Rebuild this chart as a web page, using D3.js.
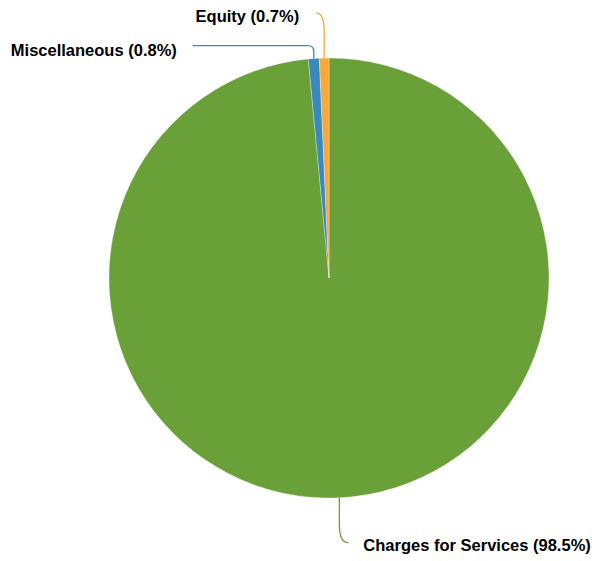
<!DOCTYPE html>
<html lang="en">
	<head>
		<meta charset="utf-8">
		<title>Revenue by source</title>
		<style>
			html, body { margin: 0; background: #fff; }
			svg { display: block; font-family: 'Liberation Sans', Arial, Helvetica, sans-serif; }
		</style>
	</head>
	<body>
		<script src="https://cdn.jsdelivr.net/npm/d3@7/dist/d3.min.js"></script>
		<script>
		// data
		const categories = ['Charges for Services', 'Miscellaneous', 'Equity']
		const shares = [98.5, 0.8, 0.7]
		const colors = ['#6aa038', '#3a89bd', '#f7a83a']

		const w = 592
		const h = 561
		const cx = 329
		const cy = 278
		const r = 220

		// where each leader line ends, relative to the point on the rim
		const leader = {
			'Charges for Services': { dx: 9, dy: 45, gap: 15, tdy: 2 },
			'Miscellaneous': { dx: -121, dy: -13, gap: 16, tdy: 5 },
			'Equity': { dx: -8, dy: -45, gap: 17, tdy: 3 }
		}

		const rows = categories.map((c, i) => ({ name: c, value: shares[i], color: colors[i] }))

		const svg = d3.select('body').append('svg')
			.attr('width', w)
			.attr('height', h)

		const pie = d3.pie()
			.value(d => d.value)
			.sort(null)

		const arc = d3.arc()
			.innerRadius(0)
			.outerRadius(r)

		const arcs = pie(rows)

		const g = svg.append('g')
			.attr('transform', `translate(${cx}, ${cy})`)

		g.selectAll('path.slice')
			.data(arcs)
			.join('path')
			.attr('class', 'slice')
			.attr('d', arc)
			.attr('fill', d => d.data.color)
			.attr('stroke', '#fff')
			.attr('stroke-width', 0.5)
			.attr('stroke-opacity', 0.6)

		const rim = d => {
			const a = (d.startAngle + d.endAngle) / 2
			return [r * Math.sin(a), -r * Math.cos(a)]
		}

		g.selectAll('path.leader')
			.data(arcs)
			.join('path')
			.attr('class', 'leader')
			.attr('fill', 'none')
			.attr('stroke', d => d.data.color)
			.attr('stroke-width', 1.3)
			.attr('d', d => {
				const [ax, ay] = rim(d)
				const L = leader[d.data.name]
				const ex = ax + L.dx
				const ey = ay + L.dy
				const sy = Math.sign(L.dy)
				const sx = Math.sign(L.dx)
				if (Math.abs(L.dx) > Math.abs(L.dy)) {
					// short rise, then a bend into a long horizontal run
					const k = 6
					return `M ${ax},${ay} L ${ax},${ey - sy * k} Q ${ax},${ey} ${ax + sx * k},${ey} L ${ex},${ey}`
				}
				const k = Math.abs(L.dy) * 0.4
				return `M ${ax},${ay} L ${ax},${ey - sy * k} Q ${ax},${ey} ${ex},${ey}`
			})

		g.selectAll('text.label')
			.data(arcs)
			.join('text')
			.attr('class', 'label')
			.attr('x', d => rim(d)[0] + leader[d.data.name].dx + Math.sign(leader[d.data.name].dx) * leader[d.data.name].gap)
			.attr('y', d => rim(d)[1] + leader[d.data.name].dy + leader[d.data.name].tdy)
			.attr('dy', '0.35em')
			.attr('text-anchor', d => leader[d.data.name].dx < 0 ? 'end' : 'start')
			.attr('font-size', 16.5)
			.attr('font-weight', 'bold')
			.attr('fill', '#000')
			.text(d => `${d.data.name} (${d.data.value}%)`)
		</script>
	</body>
</html>
